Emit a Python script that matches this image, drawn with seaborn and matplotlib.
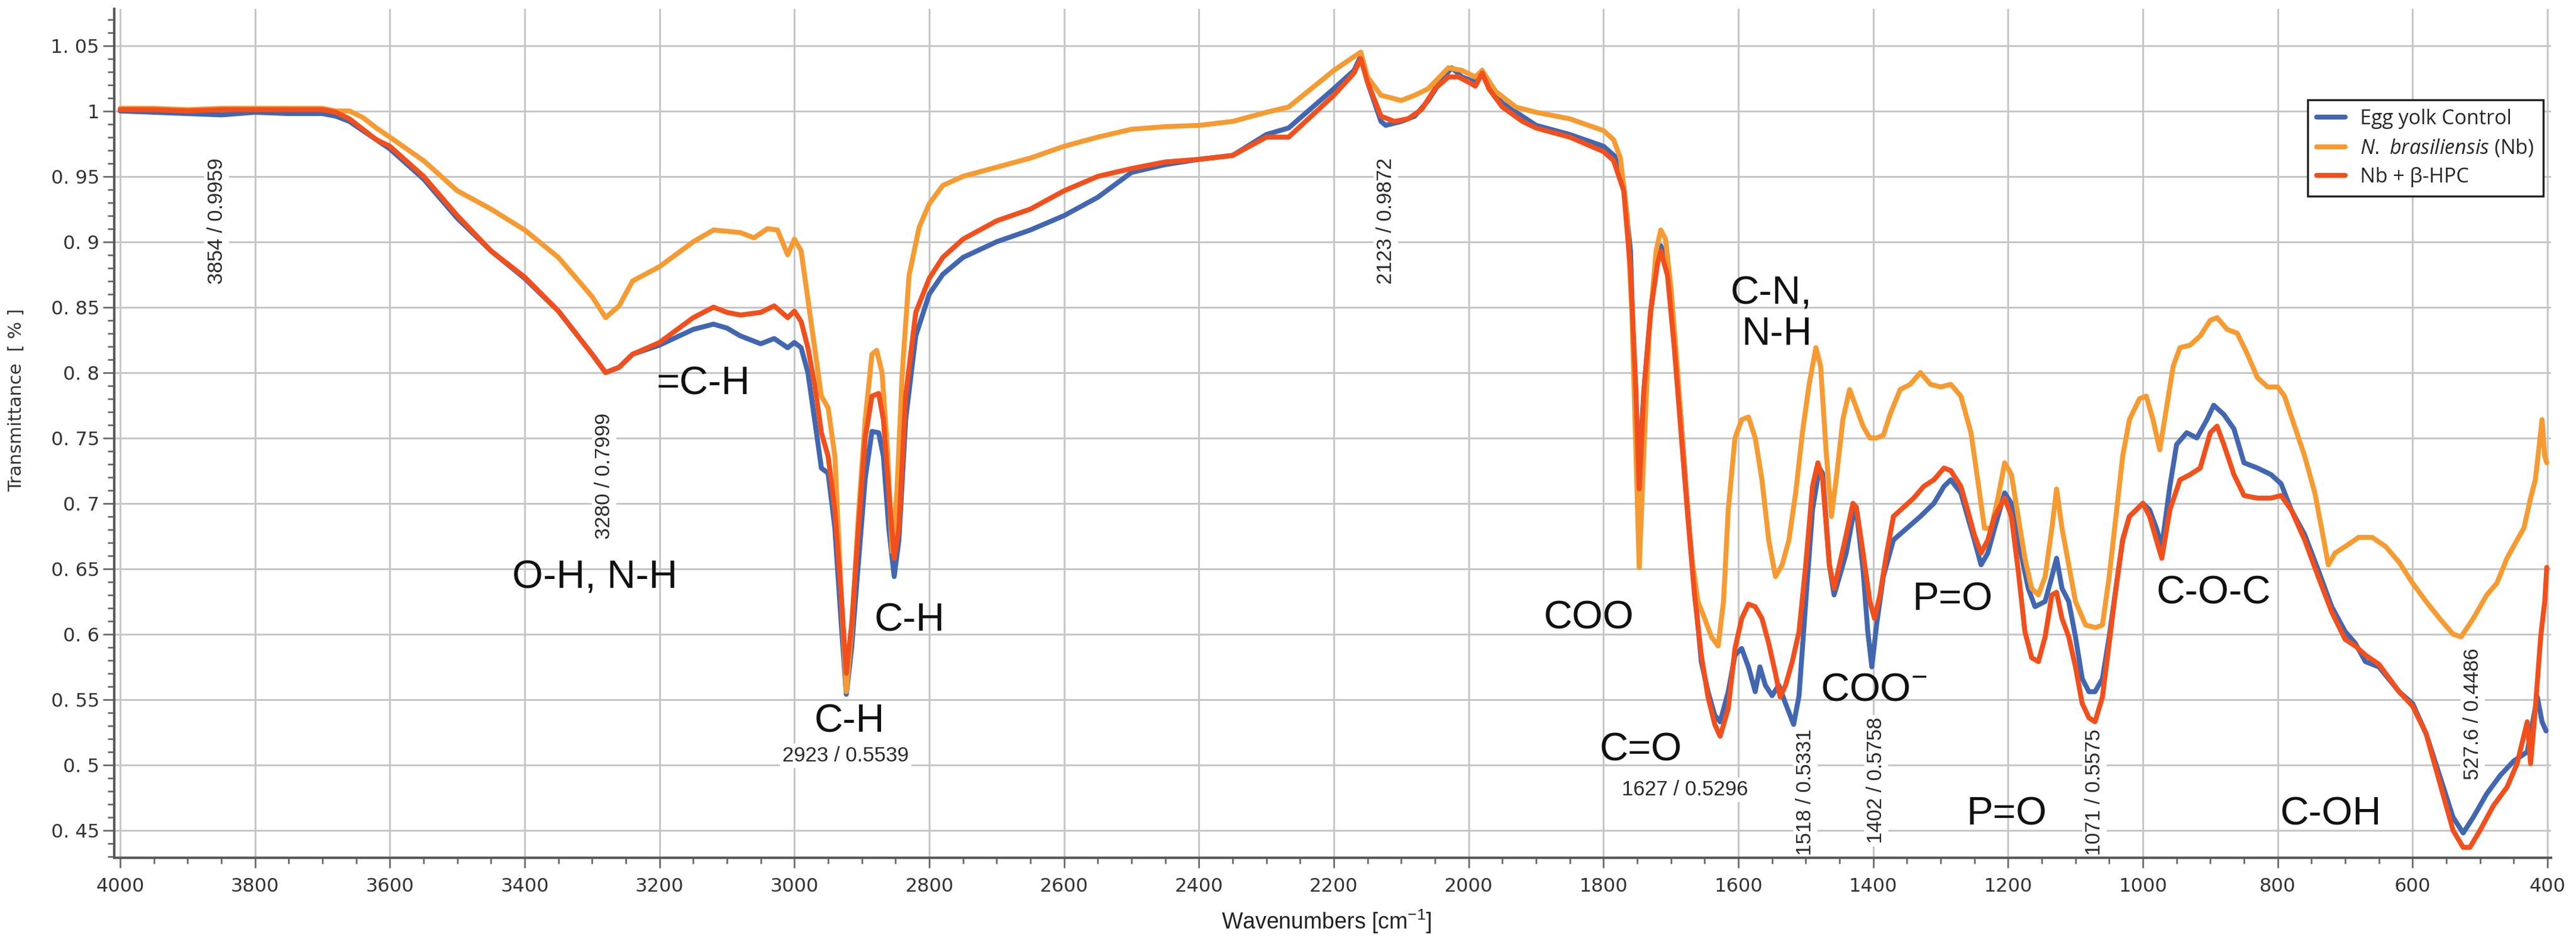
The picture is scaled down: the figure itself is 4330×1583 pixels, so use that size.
import numpy as np
import pandas as pd
import matplotlib
matplotlib.use("Agg")
import matplotlib.pyplot as plt
import seaborn as sns
from matplotlib import font_manager as fm
from matplotlib.ticker import MultipleLocator, FixedLocator, FixedFormatter

# ---------------- data ----------------
series_names = ["Egg yolk Control", r"$\it{N.\ brasiliensis}$ (Nb)", "Nb + β-HPC"]
series_colors = ["#4267b0", "#f59b32", "#f1501d"]

wn_egg = [4000, 3950, 3900, 3850, 3800, 3750, 3700, 3680, 3660, 3640, 3620, 3600, 3550, 3500, 3450, 3400,
          3350, 3300, 3280, 3260, 3240, 3200, 3150, 3120, 3100, 3080, 3050, 3030, 3010, 3000, 2990, 2980,
          2970, 2960, 2950, 2940, 2930, 2923, 2915, 2905, 2895, 2885, 2875, 2868, 2860, 2852, 2845, 2835,
          2820, 2800, 2780, 2750, 2700, 2650, 2600, 2550, 2500, 2450, 2400, 2350, 2300, 2267, 2200, 2170,
          2160, 2150, 2130, 2123, 2100, 2080, 2060, 2040, 2025, 2010, 2000, 1990, 1980, 1970, 1950, 1900,
          1850, 1800, 1780, 1770, 1760, 1755, 1748, 1740, 1730, 1720, 1715, 1705, 1695, 1685, 1675, 1665,
          1655, 1645, 1635, 1627, 1615, 1605, 1595, 1585, 1575, 1568, 1560, 1550, 1540, 1530, 1518, 1510,
          1500, 1490, 1480, 1475, 1465, 1458, 1450, 1440, 1430, 1425, 1415, 1408, 1402, 1395, 1385, 1370,
          1350, 1330, 1310, 1295, 1285, 1270, 1260, 1250, 1240, 1230, 1220, 1205, 1195, 1185, 1170, 1160,
          1145, 1135, 1128, 1120, 1110, 1100, 1090, 1080, 1071, 1060, 1050, 1040, 1030, 1020, 1000, 990,
          980, 972, 960, 950, 935, 920, 905, 895, 880, 865, 850, 830, 810, 795, 780, 760,
          740, 720, 700, 685, 670, 650, 620, 600, 580, 560, 540, 525, 510, 490, 470, 450,
          430, 415, 408, 402]
t_egg = [1.000, 0.999, 0.998, 0.997, 0.999, 0.998, 0.998, 0.996, 0.992, 0.985, 0.978, 0.971, 0.948, 0.918, 0.893, 0.872,
         0.847, 0.814, 0.800, 0.804, 0.814, 0.821, 0.833, 0.837, 0.834, 0.828, 0.822, 0.826, 0.819, 0.823, 0.819, 0.800,
         0.764, 0.727, 0.723, 0.681, 0.604, 0.554, 0.590, 0.655, 0.719, 0.755, 0.754, 0.736, 0.681, 0.644, 0.672, 0.764,
         0.828, 0.860, 0.875, 0.888, 0.900, 0.909, 0.920, 0.934, 0.953, 0.959, 0.963, 0.966, 0.982, 0.987, 1.017, 1.031,
         1.042, 1.022, 0.992, 0.989, 0.992, 0.996, 1.008, 1.024, 1.033, 1.026, 1.024, 1.022, 1.031, 1.019, 1.006, 0.989,
         0.982, 0.973, 0.964, 0.943, 0.893, 0.810, 0.718, 0.787, 0.847, 0.888, 0.897, 0.883, 0.828, 0.764, 0.695, 0.635,
         0.579, 0.556, 0.538, 0.533, 0.556, 0.584, 0.589, 0.575, 0.556, 0.575, 0.561, 0.553, 0.561, 0.547, 0.531, 0.553,
         0.625, 0.695, 0.727, 0.723, 0.653, 0.630, 0.644, 0.662, 0.690, 0.695, 0.649, 0.602, 0.575, 0.607, 0.644, 0.672,
         0.681, 0.690, 0.700, 0.713, 0.718, 0.708, 0.690, 0.672, 0.653, 0.662, 0.681, 0.708, 0.700, 0.672, 0.635, 0.621,
         0.625, 0.644, 0.658, 0.635, 0.625, 0.598, 0.566, 0.556, 0.556, 0.566, 0.598, 0.635, 0.672, 0.690, 0.700, 0.695,
         0.681, 0.667, 0.713, 0.745, 0.754, 0.750, 0.764, 0.775, 0.768, 0.757, 0.731, 0.727, 0.722, 0.715, 0.695, 0.676,
         0.649, 0.621, 0.602, 0.593, 0.579, 0.575, 0.556, 0.547, 0.524, 0.492, 0.460, 0.448, 0.460, 0.478, 0.492, 0.503,
         0.510, 0.552, 0.533, 0.526]

wn_nb = [4000, 3950, 3900, 3850, 3800, 3750, 3700, 3680, 3660, 3640, 3620, 3600, 3550, 3500, 3450, 3400,
         3350, 3300, 3280, 3260, 3240, 3200, 3150, 3120, 3080, 3060, 3040, 3025, 3010, 3000, 2990, 2980,
         2970, 2960, 2950, 2940, 2930, 2923, 2915, 2905, 2895, 2885, 2878, 2870, 2862, 2855, 2848, 2840,
         2830, 2815, 2800, 2780, 2750, 2700, 2650, 2600, 2550, 2500, 2450, 2400, 2350, 2300, 2267, 2200,
         2160, 2150, 2130, 2100, 2080, 2060, 2030, 2010, 1990, 1980, 1960, 1930, 1900, 1850, 1800, 1785,
         1775, 1765, 1758, 1752, 1747, 1740, 1732, 1722, 1715, 1708, 1700, 1690, 1680, 1670, 1660, 1650,
         1640, 1630, 1622, 1615, 1605, 1595, 1585, 1575, 1565, 1555, 1545, 1535, 1525, 1515, 1505, 1495,
         1485, 1478, 1470, 1462, 1455, 1445, 1435, 1425, 1415, 1405, 1395, 1385, 1375, 1360, 1345, 1330,
         1315, 1300, 1285, 1270, 1255, 1245, 1235, 1225, 1215, 1205, 1195, 1185, 1175, 1165, 1155, 1145,
         1135, 1128, 1120, 1110, 1100, 1085, 1070, 1060, 1050, 1040, 1030, 1020, 1005, 995, 985, 975,
         965, 955, 945, 930, 915, 900, 890, 875, 860, 845, 830, 815, 800, 790, 775, 760,
         745, 735, 725, 715, 700, 680, 660, 640, 620, 600, 580, 560, 540, 528, 510, 490,
         475, 460, 445, 435, 425, 418, 412, 408, 404, 401]
t_nb = [1.002, 1.002, 1.001, 1.002, 1.002, 1.002, 1.002, 1.000, 1.000, 0.995, 0.987, 0.980, 0.962, 0.939, 0.925, 0.909,
        0.888, 0.858, 0.842, 0.851, 0.870, 0.881, 0.900, 0.909, 0.907, 0.903, 0.910, 0.909, 0.890, 0.902, 0.893, 0.856,
        0.819, 0.782, 0.773, 0.736, 0.625, 0.556, 0.604, 0.691, 0.764, 0.814, 0.817, 0.800, 0.741, 0.663, 0.709, 0.800,
        0.874, 0.911, 0.929, 0.943, 0.950, 0.957, 0.964, 0.973, 0.980, 0.986, 0.988, 0.989, 0.992, 0.999, 1.003, 1.031,
        1.045, 1.026, 1.012, 1.008, 1.012, 1.017, 1.033, 1.031, 1.026, 1.031, 1.015, 1.003, 0.999, 0.994, 0.985, 0.978,
        0.964, 0.920, 0.847, 0.741, 0.651, 0.741, 0.833, 0.893, 0.909, 0.902, 0.865, 0.800, 0.727, 0.662, 0.625, 0.612,
        0.598, 0.591, 0.625, 0.695, 0.750, 0.764, 0.766, 0.750, 0.718, 0.672, 0.644, 0.653, 0.672, 0.708, 0.754, 0.791,
        0.819, 0.805, 0.741, 0.690, 0.718, 0.764, 0.787, 0.773, 0.759, 0.750, 0.750, 0.752, 0.768, 0.787, 0.791, 0.800,
        0.791, 0.789, 0.791, 0.782, 0.754, 0.718, 0.681, 0.681, 0.704, 0.731, 0.722, 0.690, 0.658, 0.635, 0.630, 0.644,
        0.681, 0.711, 0.681, 0.653, 0.625, 0.607, 0.605, 0.607, 0.644, 0.690, 0.736, 0.764, 0.780, 0.782, 0.764, 0.741,
        0.773, 0.805, 0.819, 0.821, 0.828, 0.840, 0.842, 0.833, 0.830, 0.814, 0.796, 0.789, 0.789, 0.782, 0.759, 0.736,
        0.708, 0.681, 0.653, 0.662, 0.667, 0.674, 0.674, 0.667, 0.655, 0.639, 0.625, 0.612, 0.600, 0.598, 0.612, 0.630,
        0.639, 0.658, 0.672, 0.681, 0.704, 0.718, 0.745, 0.764, 0.736, 0.731]

wn_hpc = [4000, 3950, 3900, 3850, 3800, 3750, 3700, 3680, 3660, 3640, 3620, 3600, 3550, 3500, 3450, 3400,
          3350, 3300, 3280, 3260, 3240, 3200, 3150, 3120, 3100, 3080, 3050, 3030, 3010, 3000, 2990, 2980,
          2970, 2960, 2950, 2940, 2930, 2923, 2915, 2905, 2895, 2885, 2875, 2868, 2860, 2852, 2845, 2835,
          2820, 2800, 2780, 2750, 2700, 2650, 2600, 2550, 2500, 2450, 2400, 2350, 2300, 2267, 2200, 2170,
          2160, 2150, 2130, 2110, 2090, 2070, 2050, 2030, 2015, 2000, 1990, 1980, 1970, 1950, 1920, 1900,
          1850, 1800, 1785, 1770, 1760, 1752, 1747, 1740, 1730, 1720, 1715, 1705, 1695, 1685, 1675, 1665,
          1655, 1645, 1635, 1627, 1615, 1605, 1595, 1585, 1575, 1565, 1555, 1545, 1538, 1530, 1520, 1510,
          1500, 1490, 1482, 1475, 1465, 1458, 1450, 1440, 1430, 1425, 1415, 1405, 1398, 1390, 1380, 1370,
          1355, 1340, 1325, 1310, 1295, 1285, 1270, 1260, 1250, 1240, 1230, 1220, 1205, 1195, 1185, 1175,
          1165, 1155, 1145, 1135, 1128, 1120, 1110, 1100, 1090, 1080, 1071, 1060, 1050, 1040, 1030, 1020,
          1000, 990, 980, 972, 960, 945, 930, 915, 900, 890, 880, 865, 850, 830, 810, 795,
          780, 760, 740, 720, 700, 685, 670, 650, 620, 600, 580, 560, 540, 525, 515, 500,
          480, 460, 445, 430, 425, 418, 410, 404, 401]
t_hpc = [1.001, 1.001, 1.000, 1.001, 1.001, 1.001, 1.001, 0.999, 0.994, 0.986, 0.978, 0.973, 0.950, 0.920, 0.893, 0.873,
         0.847, 0.814, 0.800, 0.804, 0.814, 0.823, 0.842, 0.850, 0.846, 0.844, 0.846, 0.851, 0.842, 0.847, 0.839, 0.819,
         0.791, 0.754, 0.736, 0.695, 0.625, 0.570, 0.608, 0.681, 0.750, 0.782, 0.784, 0.764, 0.709, 0.658, 0.681, 0.782,
         0.846, 0.872, 0.888, 0.902, 0.916, 0.925, 0.939, 0.950, 0.956, 0.961, 0.963, 0.966, 0.980, 0.980, 1.012, 1.029,
         1.040, 1.022, 0.996, 0.992, 0.994, 1.001, 1.017, 1.026, 1.026, 1.022, 1.019, 1.029, 1.017, 1.003, 0.992, 0.987,
         0.980, 0.969, 0.962, 0.939, 0.879, 0.787, 0.711, 0.787, 0.847, 0.883, 0.893, 0.874, 0.819, 0.754, 0.690, 0.630,
         0.584, 0.552, 0.531, 0.522, 0.543, 0.589, 0.612, 0.623, 0.621, 0.612, 0.593, 0.570, 0.552, 0.561, 0.579, 0.602,
         0.653, 0.713, 0.731, 0.718, 0.653, 0.635, 0.653, 0.676, 0.700, 0.697, 0.662, 0.625, 0.612, 0.630, 0.662, 0.690,
         0.697, 0.704, 0.713, 0.718, 0.727, 0.725, 0.713, 0.695, 0.676, 0.662, 0.672, 0.690, 0.704, 0.690, 0.649, 0.602,
         0.582, 0.579, 0.598, 0.630, 0.632, 0.612, 0.598, 0.575, 0.547, 0.536, 0.533, 0.552, 0.593, 0.635, 0.672, 0.690,
         0.700, 0.690, 0.672, 0.658, 0.695, 0.718, 0.722, 0.727, 0.754, 0.759, 0.745, 0.722, 0.706, 0.704, 0.704, 0.706,
         0.695, 0.672, 0.644, 0.617, 0.596, 0.591, 0.584, 0.577, 0.556, 0.545, 0.524, 0.487, 0.450, 0.437, 0.437, 0.450,
         0.469, 0.483, 0.501, 0.533, 0.501, 0.543, 0.598, 0.625, 0.651]

x_tick_values = [4000, 3800, 3600, 3400, 3200, 3000, 2800, 2600, 2400, 2200, 2000, 1800, 1600, 1400, 1200, 1000, 800, 600, 400]
x_tick_labels = [str(v) for v in x_tick_values]
y_tick_values = [0.45, 0.5, 0.55, 0.6, 0.65, 0.7, 0.75, 0.8, 0.85, 0.9, 0.95, 1.0, 1.05]
y_tick_labels = ["0. 45", "0. 5", "0. 55", "0. 6", "0. 65", "0. 7", "0. 75", "0. 8", "0. 85", "0. 9", "0. 95", "1", "1. 05"]

peak_labels = ["3854 / 0.9959", "3280 / 0.7999", "2923 / 0.5539", "2123 / 0.9872", "1627 / 0.5296",
               "1518 / 0.5331", "1402 / 0.5758", "1071 / 0.5575", "527.6 / 0.4486"]
group_labels = ["O-H, N-H", "=C-H", "C-H", "C-H", "COO", "C-N,\nN-H", "C=O", "COO$^{-}$",
                "P=O", "P=O", "C-O-C", "C-OH"]

# ---------------- style ----------------
sns.set_theme(style="white")
plt.rcParams["font.family"] = ["DejaVu Sans"]
plt.rcParams["mathtext.fontset"] = "custom"
plt.rcParams["mathtext.rm"] = "Liberation Sans"
plt.rcParams["mathtext.it"] = "Open Sans:italic"
plt.rcParams["mathtext.default"] = "regular"

names = {f.name for f in fm.fontManager.ttflist}
if "Liberation Sans Narrow" in names:
    small_family, small_size = ["Liberation Sans Narrow", "DejaVu Sans"], 29
else:
    small_family, small_size = ["Liberation Sans", "DejaVu Sans"], 25
big_family = ["Liberation Sans", "DejaVu Sans"]
big_size = 48

fig = plt.figure(figsize=(43.3, 15.83), dpi=100)
ax = fig.add_axes([0.04434, 0.0884, 0.9903 - 0.04434, 0.9905 - 0.0884])

frames = []
for name, wn, t in zip(series_names, [wn_egg, wn_nb, wn_hpc], [t_egg, t_nb, t_hpc]):
    frames.append(pd.DataFrame({"wn": wn, "T": t, "series": name}))
df = pd.concat(frames, ignore_index=True)

sns.lineplot(data=df, x="wn", y="T", hue="series", hue_order=series_names,
             palette=series_colors, estimator=None, sort=False, lw=6, ax=ax, zorder=3)
for ln in ax.lines:
    ln.set_solid_joinstyle("round")
    ln.set_solid_capstyle("round")

ax.set_xlim(4008.8, 394.7)
ax.set_ylim(0.429, 1.078)

ax.xaxis.set_major_locator(FixedLocator(x_tick_values))
ax.xaxis.set_major_formatter(FixedFormatter(x_tick_labels))
ax.xaxis.set_minor_locator(MultipleLocator(50))
ax.yaxis.set_major_locator(FixedLocator(y_tick_values))
ax.yaxis.set_major_formatter(FixedFormatter(y_tick_labels))
ax.yaxis.set_minor_locator(MultipleLocator(0.01))

ax.grid(True, which="major", color="#c6c6c6", lw=2.2, zorder=0)
ax.set_axisbelow(True)
for s in ["top", "right"]:
    ax.spines[s].set_visible(False)
for s in ["left", "bottom"]:
    ax.spines[s].set_color("#5a5a5a")
    ax.spines[s].set_linewidth(3)

ax.tick_params(axis="both", which="both", bottom=True, left=True, direction="out",
               color="#6a6a6a", width=2)
ax.tick_params(axis="x", which="major", length=12, pad=12, labelsize=23, labelcolor="#333333")
ax.tick_params(axis="x", which="minor", length=7)
ax.tick_params(axis="y", which="major", length=14, pad=4, labelsize=23, labelcolor="#333333")
ax.tick_params(axis="y", which="minor", length=8)

ax.set_xlabel("Wavenumbers [cm$^{-1}$]", fontsize=27, family=["Liberation Sans", "DejaVu Sans"], color="#222222")
ax.xaxis.set_label_coords(0.4976, -0.075)
ax.xaxis.label.set_va("center")
ax.set_ylabel("Transmittance  [ % ]", fontsize=22, color="#333333")
ax.yaxis.set_label_coords(-0.0403, 0.539)
ax.yaxis.label.set_va("center")

# legend
handles, labels = ax.get_legend_handles_labels()
leg = ax.legend(handles, labels, loc="upper right", bbox_to_anchor=(0.9968, 0.893),
                borderaxespad=0, frameon=True, fancybox=False, framealpha=1,
                edgecolor="#222222", prop={"family": ["Open Sans", "DejaVu Sans"], "size": 24.5},
                handlelength=1.4, handletextpad=0.75, borderpad=0.45, labelspacing=0.42,
                borderaxespad_=None) if False else ax.legend(
                handles, labels, loc="upper right", bbox_to_anchor=(0.9968, 0.893),
                borderaxespad=0, frameon=True, fancybox=False, framealpha=1,
                edgecolor="#222222", prop={"family": ["Open Sans", "DejaVu Sans"], "size": 24.5},
                handlelength=1.4, handletextpad=0.75, borderpad=0.45, labelspacing=0.42)
leg.get_frame().set_linewidth(2.5)
for ln in leg.get_lines():
    ln.set_linewidth(6)
    ln.set_solid_capstyle("round")

# peak value labels
peak_pos = [(3857, 0.916, 90), (3282, 0.721, 90), (2924, 0.507, 0), (2123, 0.916, 90), (1679, 0.481, 0),
            (1501, 0.479, 90), (1396, 0.488, 90), (1072, 0.479, 90), (511, 0.539, 90)]
for txt, (x, y, rot) in zip(peak_labels, peak_pos):
    ax.text(x, y, txt, rotation=rot, ha="center", va="center", fontsize=small_size,
            family=small_family, color="#2a2a2a", zorder=2.5,
            bbox=dict(facecolor="white", edgecolor="none", pad=3))

# functional-group labels
group_pos = [(3296, 0.643, "center"), (3135, 0.791, "center"), (2829, 0.610, "center"),
             (2918, 0.533, "center"), (1822, 0.612, "center"), (1491, 0.8445, "right"),
             (1745, 0.511, "center"), (1399, 0.557, "center"), (1282, 0.626, "center"),
             (1202, 0.462, "center"), (895, 0.631, "center"), (721, 0.462, "center")]
for txt, (x, y, ha) in zip(group_labels, group_pos):
    ax.text(x, y, txt, ha=ha, va="center", multialignment="right", fontsize=big_size,
            family=big_family, color="#111111", zorder=4, linespacing=1.15)

fig.savefig("out.png", dpi=100)
